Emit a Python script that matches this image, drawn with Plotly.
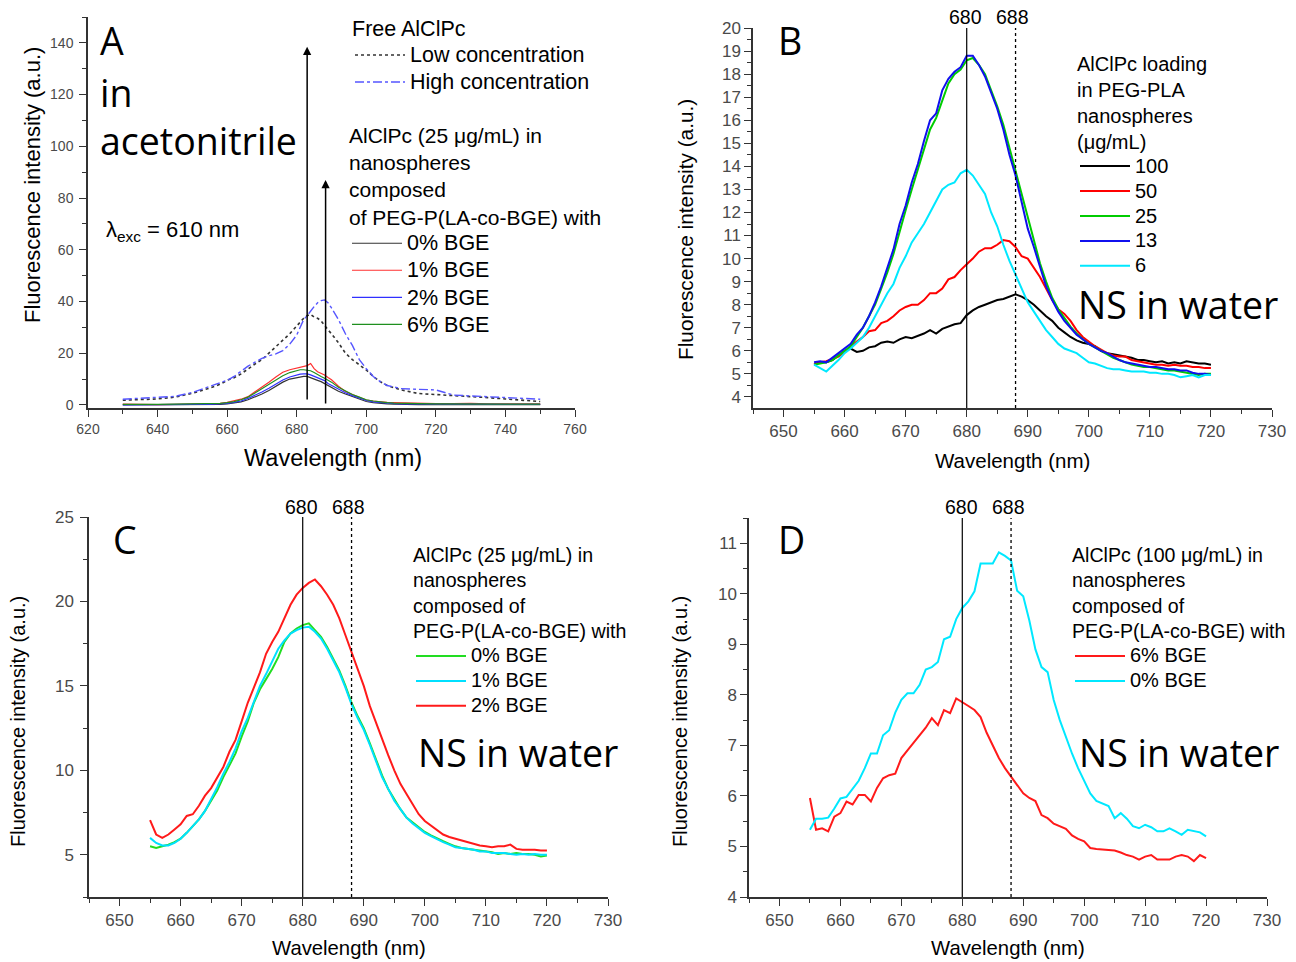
import plotly.graph_objects as go

W, H = 1296, 962
def px(x): return x / W
def py(y): return 1 - y / H

# ---------------- Panel A data (free AlClPc and nanospheres in acetonitrile) ----------------
wl_a = [630, 635, 640, 645, 650, 655,
        658, 660, 662, 664, 666, 668, 670, 672, 674, 676, 678, 680,
        681, 682, 683, 684, 685, 686, 687, 688, 689, 690,
        692, 694, 696, 698, 700, 702, 704, 706, 708, 710,
        715, 720, 725, 730, 735, 740, 745, 750]
a_low = [1.8, 2.0, 2.3, 3.0, 4.5, 6.5,
         8.0, 9.5, 10.5, 12.0, 14.0, 15.8, 17.5, 20.0, 22.5, 25.0, 27.5, 30.5,
         32.0, 33.5, 34.5, 35.0, 34.0, 33.5, 32.5, 30.5, 29.0, 27.5,
         24.0, 20.0, 17.5, 15.5, 13.5, 11.0, 9.0, 7.5, 6.5, 5.8,
         4.4, 4.0, 3.8, 3.3, 2.8, 2.3, 1.8, 1.3]
a_high = [2.2, 2.5, 3.0, 3.3, 4.8, 7.0,
          8.5, 9.5, 11.0, 13.0, 15.0, 16.5, 18.0, 19.0, 19.7, 21.0, 23.5, 27.0,
          30.0, 33.0, 34.5, 36.5, 38.0, 39.5, 40.3, 40.6, 39.5, 37.5,
          33.0, 27.5, 23.0, 17.5, 14.0, 11.0, 9.0, 7.5, 6.8, 6.3,
          6.0, 5.8, 3.8, 3.5, 3.2, 2.8, 2.4, 2.2]
a_bge0 = [0.0, 0.0, 0.0, 0.0, 0.0, 0.0,
          0.2, 0.4, 0.8, 1.2, 2.0, 3.0, 4.2, 5.6, 7.2, 8.8, 10.0, 10.6,
          10.8, 11.0, 11.0, 10.6, 10.2, 9.5, 9.0, 8.2, 7.4, 6.7,
          5.3, 4.2, 3.3, 2.2, 1.3, 0.9, 0.6, 0.4, 0.3, 0.2,
          0.1, 0.1, 0.1, 0.1, 0.1, 0.1, 0.1, 0.1]
a_bge1 = [0.3, 0.1, 0.1, 0.2, 0.3, 0.4,
          0.6, 1.0, 1.5, 2.2, 3.2, 5.0, 6.8, 8.8, 10.8, 12.6, 13.6, 14.3,
          14.6, 14.8, 15.2, 16.0, 14.0, 12.8, 12.3, 11.6, 10.6, 9.7,
          7.2, 5.2, 4.0, 2.8, 1.9, 1.5, 1.2, 1.0, 0.9, 0.8,
          0.6, 0.5, 0.5, 0.6, 0.4, 0.5, 0.4, 0.4]
a_bge2 = [0.0, 0.1, 0.0, 0.1, 0.2, 0.2,
          0.4, 0.6, 1.0, 1.5, 2.5, 3.6, 5.0, 6.4, 8.0, 9.6, 10.8, 11.6,
          11.9, 12.0, 12.0, 11.6, 11.0, 10.4, 10.0, 9.4, 8.3, 7.6,
          6.0, 4.7, 3.6, 2.6, 1.7, 1.2, 0.9, 0.7, 0.5, 0.4,
          0.3, 0.3, 0.3, 0.3, 0.2, 0.3, 0.2, 0.2]
a_bge6 = [0.2, 0.1, 0.2, 0.3, 0.4, 0.4,
          0.6, 0.9, 1.3, 2.0, 3.0, 4.6, 6.2, 7.8, 9.5, 11.3, 12.5, 13.4,
          13.6, 13.6, 13.5, 13.2, 12.5, 11.6, 11.0, 10.3, 9.5, 8.8,
          6.8, 5.3, 4.0, 3.0, 2.0, 1.5, 1.1, 0.9, 0.7, 0.6,
          0.5, 0.4, 0.4, 0.4, 0.3, 0.4, 0.3, 0.3]
a_arrows_x = [683, 688.3]
a_arrows_y0 = [1.5, 0.0]
a_arrows_y1 = [138.5, 87.0]

# ---------------- Shared wavelength grid for B, C, D ----------------
wl = list(range(655, 721))

# Panel B: AlClPc loading in PEG-PLA nanospheres (µg/mL)
b_100 = [5.4, 5.5, 5.5, 5.6, 5.8, 6.0, 6.1, 5.95, 6.0, 6.15,
         6.2, 6.35, 6.4, 6.35, 6.5, 6.6, 6.55, 6.65, 6.75, 6.9,
         6.75, 6.95, 7.05, 7.15, 7.2, 7.55, 7.75, 7.9, 8.0, 8.1,
         8.2, 8.25, 8.35, 8.45, 8.35, 8.2, 8.0, 7.75, 7.5, 7.3,
         7.0, 6.8, 6.6, 6.45, 6.35, 6.3, 6.2, 6.0, 5.9, 5.85,
         5.8, 5.75, 5.7, 5.6, 5.6, 5.55, 5.5, 5.55, 5.45, 5.5,
         5.45, 5.55, 5.5, 5.45, 5.45, 5.4]
b_50 = [5.4, 5.5, 5.55, 5.65, 5.75, 5.95, 6.2, 6.4, 6.6, 6.85,
        6.9, 7.2, 7.3, 7.5, 7.75, 7.9, 8.0, 8.0, 8.2, 8.5,
        8.5, 8.7, 9.1, 9.2, 9.5, 9.75, 10.0, 10.3, 10.45, 10.45,
        10.6, 10.8, 10.75, 10.5, 10.1, 10.0, 9.6, 9.2, 8.7, 8.2,
        7.8, 7.6, 7.3, 6.9, 6.6, 6.4, 6.2, 6.05, 5.9, 5.8,
        5.75, 5.75, 5.6, 5.55, 5.5, 5.45, 5.4, 5.4, 5.35, 5.4,
        5.35, 5.35, 5.3, 5.3, 5.25, 5.25]
b_25 = [5.4, 5.45, 5.5, 5.6, 5.8, 6.0, 6.2, 6.6, 7.0, 7.5,
        8.0, 8.7, 9.4, 10.2, 11.2, 12.1, 13.0, 13.9, 14.8, 15.6,
        16.1, 16.9, 17.6, 18.0, 18.2, 18.6, 18.7, 18.4, 18.0, 17.3,
        16.6, 15.8, 14.8, 13.9, 12.9, 11.8, 10.8, 9.8, 9.0, 8.3,
        7.8, 7.4, 7.05, 6.75, 6.5, 6.3, 6.15, 6.0, 5.85, 5.7,
        5.6, 5.5, 5.4, 5.35, 5.3, 5.3, 5.25, 5.2, 5.15, 5.15,
        5.1, 5.05, 5.0, 4.95, 5.0, 5.0]
b_13 = [5.5, 5.55, 5.5, 5.7, 5.9, 6.1, 6.3, 6.7, 7.0, 7.5,
        8.1, 8.8, 9.6, 10.4, 11.5, 12.3, 13.3, 14.1, 15.1, 16.0,
        16.3, 17.3, 17.8, 18.1, 18.3, 18.8, 18.8, 18.4, 17.9, 17.2,
        16.5, 15.6, 14.5, 13.6, 12.4, 11.3, 10.5, 9.6, 8.8, 8.2,
        7.7, 7.3, 7.0, 6.7, 6.5, 6.3, 6.15, 6.0, 5.9, 5.75,
        5.6, 5.5, 5.45, 5.4, 5.35, 5.3, 5.3, 5.25, 5.2, 5.2,
        5.15, 5.15, 5.05, 5.0, 5.0, 4.95]
b_6 = [5.4, 5.25, 5.1, 5.35, 5.6, 5.9, 6.1, 6.35, 6.6, 7.0,
       7.5, 8.0, 8.5, 8.9, 9.6, 10.1, 10.7, 11.1, 11.5, 12.0,
       12.5, 13.0, 13.2, 13.3, 13.7, 13.85, 13.6, 13.2, 12.8, 12.0,
       11.4, 10.6, 9.9, 9.3, 8.7, 8.1, 7.7, 7.3, 6.9, 6.6,
       6.3, 6.1, 6.0, 5.9, 5.7, 5.5, 5.45, 5.35, 5.25, 5.2,
       5.2, 5.15, 5.1, 5.1, 5.1, 5.05, 5.05, 5.0, 5.0, 4.95,
       4.85, 4.9, 4.95, 4.85, 4.95, 4.95]

# Panel C: AlClPc (25 µg/mL) in PEG-P(LA-co-BGE) nanospheres
c_bge0 = [5.5, 5.4, 5.5, 5.6, 5.75, 5.95, 6.3, 6.7, 7.1, 7.6,
          8.2, 8.8, 9.6, 10.3, 11.0, 12.0, 12.9, 14.0, 14.8, 15.4,
          16.0, 16.7, 17.6, 18.1, 18.4, 18.6, 18.7, 18.3, 17.9, 17.3,
          16.6, 15.9, 15.0, 14.0, 13.2, 12.5, 11.6, 10.6, 9.7, 8.9,
          8.3, 7.7, 7.2, 6.9, 6.6, 6.35, 6.15, 5.95, 5.8, 5.65,
          5.5, 5.4, 5.35, 5.3, 5.25, 5.2, 5.15, 5.05, 5.1, 5.05,
          5.1, 5.05, 5.05, 5.0, 4.9, 4.95]
c_bge1 = [6.0, 5.7, 5.55, 5.55, 5.7, 5.95, 6.3, 6.7, 7.1, 7.6,
          8.3, 9.0, 9.8, 10.5, 11.3, 12.3, 13.1, 14.1, 15.0, 15.7,
          16.5, 17.2, 17.7, 18.1, 18.3, 18.45, 18.5, 18.2, 17.8, 17.2,
          16.5, 15.8, 14.9, 13.9, 13.1, 12.4, 11.5, 10.5, 9.6, 8.9,
          8.2, 7.7, 7.2, 6.85, 6.55, 6.3, 6.1, 5.9, 5.75, 5.6,
          5.45, 5.4, 5.35, 5.3, 5.2, 5.2, 5.1, 5.1, 5.1, 5.05,
          5.0, 5.05, 5.0, 5.05, 5.0, 5.0]
c_bge2 = [7.05, 6.2, 6.0, 6.2, 6.5, 6.8, 7.3, 7.4, 7.9, 8.5,
          8.95, 9.6, 10.2, 11.1, 11.8, 12.9, 14.0, 14.9, 15.8, 16.9,
          17.6, 18.2, 19.0, 19.8, 20.4, 20.8, 21.1, 21.3, 20.9, 20.4,
          19.8, 19.0, 18.0, 17.0, 16.0, 15.0, 13.8, 12.8, 11.8, 10.9,
          10.0, 9.2, 8.6, 8.0, 7.4, 7.0, 6.75, 6.45, 6.2, 6.05,
          5.95, 5.85, 5.75, 5.65, 5.55, 5.5, 5.45, 5.5, 5.5, 5.6,
          5.35, 5.3, 5.3, 5.3, 5.25, 5.25]

# Panel D: AlClPc (100 µg/mL) in PEG-P(LA-co-BGE) nanospheres
d_bge6 = [5.96, 5.33, 5.36, 5.3, 5.59, 5.66, 5.89, 5.83, 6.02, 6.02,
          5.89, 6.16, 6.35, 6.41, 6.44, 6.75, 6.9, 7.05, 7.2, 7.35,
          7.54, 7.4, 7.7, 7.64, 7.93, 7.86, 7.78, 7.7, 7.56, 7.25,
          7.0, 6.75, 6.55, 6.38, 6.2, 6.05, 5.96, 5.9, 5.62, 5.56,
          5.45, 5.4, 5.35, 5.22, 5.15, 5.1, 4.97, 4.95, 4.94, 4.94,
          4.92, 4.88, 4.83, 4.8, 4.74, 4.8, 4.83, 4.74, 4.74, 4.74,
          4.8, 4.83, 4.8, 4.71, 4.83, 4.77]
d_bge0 = [5.33, 5.55, 5.55, 5.57, 5.75, 5.95, 5.98, 6.15, 6.3, 6.55,
          6.84, 6.84, 7.2, 7.3, 7.65, 7.9, 8.03, 8.03, 8.2, 8.5,
          8.55, 8.65, 9.1, 9.15, 9.5, 9.72, 9.85, 10.05, 10.6, 10.6,
          10.6, 10.82, 10.75, 10.66, 10.06, 9.95, 9.47, 8.9, 8.55, 8.45,
          7.9, 7.5, 7.15, 6.84, 6.55, 6.3, 6.05, 5.9, 5.85, 5.8,
          5.56, 5.66, 5.55, 5.4, 5.36, 5.43, 5.38, 5.3, 5.3, 5.36,
          5.3, 5.23, 5.33, 5.3, 5.28, 5.2]

ref_lines = [680, 688]
ref_labels = ["680", "688"]

for s in (a_low, a_high, a_bge0, a_bge1, a_bge2, a_bge6):
    assert len(s) == len(wl_a)
for s in (b_100, b_50, b_25, b_13, b_6, c_bge0, c_bge1, c_bge2, d_bge6, d_bge0):
    assert len(s) == len(wl)

SANS = "Liberation Sans, Arial, sans-serif"
BIG = "Open Sans, Lato, sans-serif"
AXC = "#333333"
TICKC = "#4a4a4a"

fig = go.Figure()

def big_name(name, size):
    return '<span style="font-size:%spx">%s</span>' % (size, name)

def add(x, y, name, color, width, xa, ya, legend, nsize, dash="solid"):
    fig.add_trace(go.Scatter(x=x, y=y, mode="lines", name=big_name(name, nsize),
                             line=dict(color=color, width=width, dash=dash),
                             xaxis=xa, yaxis=ya, legend=legend, hoverinfo="skip"))

# Panel A
add(wl_a, a_low, "Low concentration", "#333333", 1.6, "x", "y", "legend", 21.5, "dot")
add(wl_a, a_high, "High concentration", "#5555ff", 1.4, "x", "y", "legend", 21.5, "dashdot")
add(wl_a, a_bge0, "0% BGE", "#333333", 1.2, "x", "y", "legend2", 21.5)
add(wl_a, a_bge1, "1% BGE", "#ff3030", 1.2, "x", "y", "legend2", 21.5)
add(wl_a, a_bge2, "2% BGE", "#3030ff", 1.2, "x", "y", "legend2", 21.5)
add(wl_a, a_bge6, "6% BGE", "#1f8f1f", 1.2, "x", "y", "legend2", 21.5)

# Panel B
add(wl, b_100, "100", "#000000", 2, "x2", "y2", "legend3", 20)
add(wl, b_50, "50", "#ff0000", 2, "x2", "y2", "legend3", 20)
add(wl, b_25, "25", "#00cc00", 2, "x2", "y2", "legend3", 20)
add(wl, b_13, "13", "#1010ee", 2, "x2", "y2", "legend3", 20)
add(wl, b_6, "6", "#00e8ff", 2, "x2", "y2", "legend3", 20)

# Panel C
add(wl, c_bge0, "0% BGE", "#22dd22", 2, "x3", "y3", "legend4", 20)
add(wl, c_bge1, "1% BGE", "#00e0ff", 2, "x3", "y3", "legend4", 20)
add(wl, c_bge2, "2% BGE", "#ff1a1a", 2, "x3", "y3", "legend4", 20)

# Panel D
add(wl, d_bge6, "6% BGE", "#ff1a1a", 2, "x4", "y4", "legend5", 20)
add(wl, d_bge0, "0% BGE", "#00e8ff", 2, "x4", "y4", "legend5", 20)

def xax(domain, rng, dtick, minor, anchor, fs, standoff=0):
    return dict(domain=domain, range=rng, dtick=dtick, tick0=0, anchor=anchor,
                automargin=False, ticklabelstandoff=standoff,
                showline=True, linecolor=AXC, linewidth=1.5, ticks="outside",
                ticklen=7, tickwidth=1.3, tickcolor=AXC, showgrid=False, zeroline=False,
                tickfont=dict(family=SANS, size=fs, color=TICKC),
                minor=dict(ticks="outside", ticklen=4, tickwidth=1, tickcolor=AXC, dtick=minor),
                fixedrange=True)

fig.update_layout(
    width=W, height=H, margin=dict(l=0, r=0, t=0, b=0, autoexpand=False),
    paper_bgcolor="white", plot_bgcolor="white", showlegend=True,
    xaxis=xax([px(88), px(575)], [620, 760], 20, 10, "y", 14),
    yaxis=xax([py(408), py(17)], [-1.2, 150], 20, 10, "x", 14, 3),
    xaxis2=xax([px(753), px(1272)], [645, 730], 10, 5, "y2", 17),
    yaxis2=xax([py(408), py(28)], [3.52, 20.0], 1, 0.5, "x2", 17),
    xaxis3=xax([px(89), px(608)], [645, 730], 10, 5, "y3", 17),
    yaxis3=xax([py(897), py(517)], [2.5, 25], 5, 2.5, "x3", 17, 3),
    xaxis4=xax([px(749), px(1267)], [645, 730], 10, 5, "y4", 17),
    yaxis4=xax([py(897), py(518)], [4.0, 11.5], 1, 0.5, "x4", 17),
)

def leg(x, y, title, fs, tfs):
    return dict(x=px(x), y=py(y), xanchor="left", yanchor="top", bgcolor="rgba(0,0,0,0)",
                borderwidth=0, traceorder="normal", itemwidth=50,
                font=dict(family=SANS, size=fs, color="black"),
                title=dict(text=title, side="top", font=dict(family=SANS, size=tfs, color="black")),
                itemclick=False, itemdoubleclick=False, tracegroupgap=0)

fig.update_layout(
    legend=leg(350, 8.5, "Free AlClPc", 18.5, 21.5),
    legend2=leg(347, 115.5, "AlClPc (25 μg/mL) in<br>nanospheres<br>composed<br>of PEG-P(LA-co-BGE) with", 18.5, 21),
    legend3=leg(1075, 44.5, "AlClPc loading<br>in PEG-PLA<br>nanospheres<br>(μg/mL)", 16.9, 20),
    legend4=leg(411, 536.5, "AlClPc (25 μg/mL) in<br>nanospheres<br>composed of<br>PEG-P(LA-co-BGE) with", 16.9, 19.6),
    legend5=leg(1070, 536.5, "AlClPc (100 μg/mL) in<br>nanospheres<br>composed of<br>PEG-P(LA-co-BGE) with", 16.9, 19.6),
)

ann = []
def text(x, y, t, fs, family=SANS, xanchor="left", yanchor="middle", angle=0, color="black"):
    ann.append(dict(x=px(x), y=py(y), xref="paper", yref="paper", text=t, showarrow=False,
                    xanchor=xanchor, yanchor=yanchor, textangle=angle,
                    font=dict(family=family, size=fs, color=color)))

# axis titles
text(333, 458, "Wavelength (nm)", 23.5, xanchor="center")
text(33, 185, "Fluorescence intensity (a.u.)", 22, xanchor="center", angle=-90)
text(1012, 460, "Wavelength (nm)", 20.5, xanchor="center")
text(685, 230, "Fluorescence intensity (a.u.)", 20.8, xanchor="center", angle=-90)
text(349, 948, "Wavelength (nm)", 20.3, xanchor="center")
text(18, 722, "Fluorescence intensity (a.u.)", 20, xanchor="center", angle=-90)
text(1008, 948, "Wavelength (nm)", 20.3, xanchor="center")
text(680, 722, "Fluorescence intensity (a.u.)", 20, xanchor="center", angle=-90)

# panel letters and notes
text(98, 40, "A", 37.5, BIG)
text(98, 92, "in", 37.5, BIG)
text(98, 141, "acetonitrile", 37.5, BIG)
text(104, 231, "λ<sub>exc</sub> = 610 nm", 22)
text(776, 41, "B", 37.5, BIG)
text(111, 539, "C", 37.5, BIG)
text(776, 539, "D", 37.5, BIG)
text(1076, 304, "NS in water", 37.5, BIG)
text(416, 752, "NS in water", 37.5, BIG)
text(1077, 752, "NS in water", 37.5, BIG)

# reference-line labels above B, C, D
for xa, yl in (("x2", 17), ("x3", 507), ("x4", 507)):
    for v, lab in zip(ref_lines, ref_labels):
        ann.append(dict(x=v, xref=xa, y=py(yl), yref="paper", text=lab, showarrow=False,
                        xanchor="center", yanchor="middle", xshift=-3 if v == 688 else -1,
                        font=dict(family=SANS, size=19.5, color="black")))

# arrows in A
for xv, y0, y1 in zip(a_arrows_x, a_arrows_y0, a_arrows_y1):
    ann.append(dict(x=xv, y=y1, ax=xv, ay=y0, xref="x", yref="y", axref="x", ayref="y",
                    text="", showarrow=True, arrowhead=2, arrowsize=1.1, arrowwidth=1.5,
                    arrowcolor="black", standoff=0, startstandoff=0))

fig.update_layout(annotations=ann)

shapes = []
for xa, ya in (("x2", "y2"), ("x3", "y3"), ("x4", "y4")):
    for v in ref_lines:
        shapes.append(dict(type="line", xref=xa, yref=ya + " domain", x0=v, x1=v, y0=0, y1=1,
                           line=dict(color="black", width=1.2 if v == 680 else 1.3,
                                     dash="solid" if v == 680 else "dot")))
fig.update_layout(shapes=shapes)

fig.write_html("out.html", config={"displayModeBar": False, "staticPlot": False},
               post_script="document.body.style.margin='0px';document.body.style.overflow='hidden';")
